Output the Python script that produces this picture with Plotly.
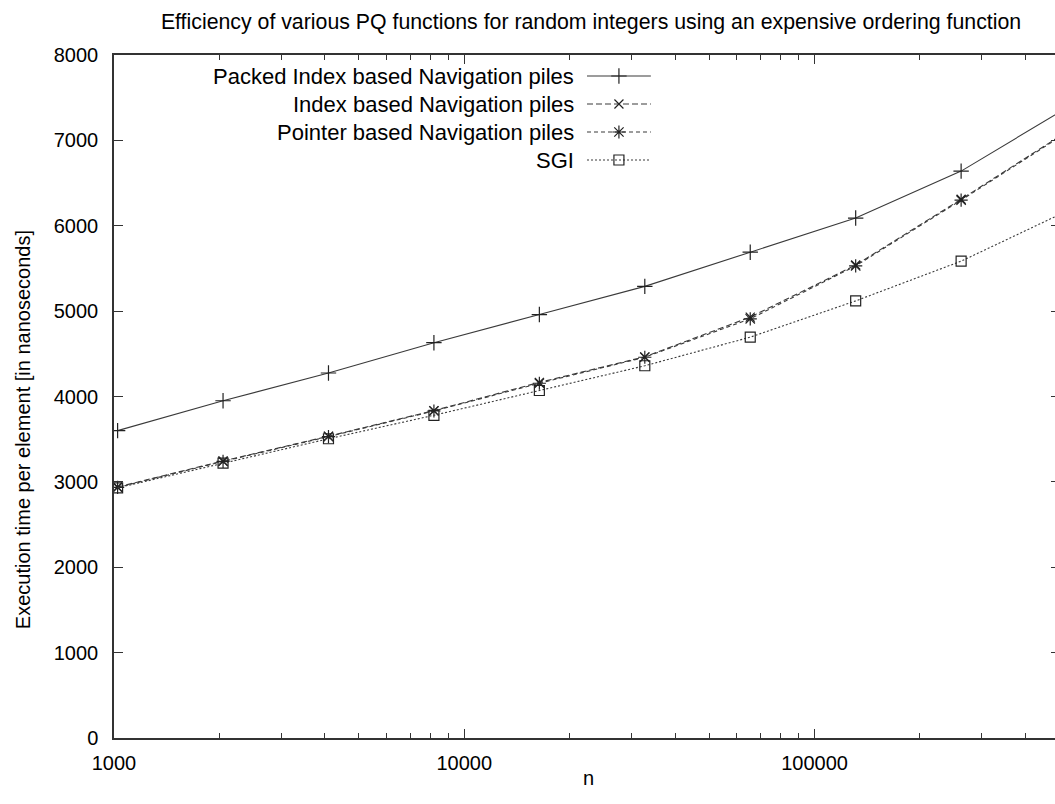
import plotly.graph_objects as go

n = [1024, 2048, 4096, 8192, 16384, 32768, 65536, 131072, 262144, 524288]
packed = [3600, 3950, 4275, 4630, 4960, 5290, 5690, 6090, 6640, 7380]
index_nav = [2940, 3245, 3535, 3835, 4165, 4465, 4930, 5540, 6310, 7100]
pointer_nav = [2935, 3240, 3530, 3830, 4155, 4460, 4910, 5530, 6300, 7090]
sgi = [2930, 3220, 3505, 3780, 4070, 4360, 4695, 5120, 5585, 6170]

names = ["Packed Index based Navigation piles", "Index based Navigation piles",
         "Pointer based Navigation piles", "SGI"]
series = [packed, index_nav, pointer_nav, sgi]
dashes = ["solid", "6px,3px", "4px,3px", "2px,2px"]
symbols = ["cross-thin-open", "x-thin-open", "asterisk-open", "square-open"]
sizes = [11, 9, 11, 10]

FONT = "Liberation Sans, Arial, Helvetica, sans-serif"
W = 1062
PLOT_W = W - 114
fig = go.Figure()

for nm, ys, d, s, sz in zip(names, series, dashes, symbols, sizes):
    fig.add_trace(go.Scatter(
        x=n, y=ys, mode="lines+markers", name=nm, showlegend=False,
        line=dict(color="#3a3a3a", width=1.1, dash=d),
        marker=dict(symbol=s, size=sz, color="#222222", line=dict(color="#222222", width=1.2)),
        cliponaxis=True,
    ))

# legend keys drawn in pixel-like overlay coordinates (page pixels)
leg_y = [76, 104, 132, 160]
for nm, yy, d, s, sz in zip(names, leg_y, dashes, symbols, sizes):
    fig.add_trace(go.Scatter(
        x=[588, 652], y=[yy, yy], mode="lines", xaxis="x2", yaxis="y2", showlegend=False,
        line=dict(color="#3a3a3a", width=1.1, dash=d), hoverinfo="skip"))
    fig.add_trace(go.Scatter(
        x=[620], y=[yy], mode="markers", xaxis="x2", yaxis="y2", showlegend=False,
        marker=dict(symbol=s, size=sz, color="#222222", line=dict(color="#222222", width=1.2)),
        hoverinfo="skip"))
    fig.add_annotation(x=577, y=yy, xref="x2", yref="y2", text=nm, showarrow=False,
                       xanchor="right", yanchor="middle",
                       font=dict(family=FONT, size=22, color="black"))

fig.add_annotation(x=(590 - 114) / PLOT_W, y=-0.0586, xref="paper", yref="paper", text="n",
                   showarrow=False, xanchor="center", yanchor="middle",
                   font=dict(family=FONT, size=20, color="black"))
fig.add_annotation(x=(23 - 114) / PLOT_W, y=0.451, xref="paper", yref="paper",
                   text="Execution time per element [in nanoseconds]",
                   textangle=-90, showarrow=False, xanchor="center", yanchor="middle",
                   font=dict(family=FONT, size=20, color="black"))

fig.update_layout(
    width=W, height=804,
    margin=dict(l=114, r=0, t=55, b=66),
    paper_bgcolor="white", plot_bgcolor="white",
    font=dict(family=FONT, size=20, color="black"),
    showlegend=False,
    xaxis=dict(
        type="log", range=[3, 3 + PLOT_W / 351],
        tickvals=[1000, 10000, 100000], ticktext=["1000", "10000", "100000"],
        ticks="inside", ticklen=9, tickwidth=1, tickcolor="#333",
        minor=dict(ticks="inside", ticklen=5, tickwidth=1, tickcolor="#333", dtick="D1", showgrid=False),
        showline=True, linecolor="#333", linewidth=1.5, mirror="ticks",
        showgrid=False, zeroline=False,
        ticklabelstandoff=6,
        tickfont=dict(size=20),
    ),
    yaxis=dict(
        range=[0, 8000], dtick=1000,
        ticks="inside", ticklen=9, tickwidth=1, tickcolor="#333",
        showline=True, linecolor="#333", linewidth=1.5, mirror="ticks",
        showgrid=False, zeroline=False,
        ticklabelstandoff=10,
        tickfont=dict(size=20),
    ),
    xaxis2=dict(overlaying="x", range=[114, W], visible=False, fixedrange=True),
    yaxis2=dict(overlaying="y", range=[738, 55], visible=False, fixedrange=True),
    title=dict(text="Efficiency of various PQ functions for random integers using an expensive ordering function",
               x=591 / W, xanchor="center", y=1 - 22 / 804, yanchor="middle",
               font=dict(family=FONT, size=21.3, color="black")),
)

fig.write_html("out.html", config={"displayModeBar": False},
               post_script="document.body.style.margin='0px';document.body.style.overflow='hidden';")
